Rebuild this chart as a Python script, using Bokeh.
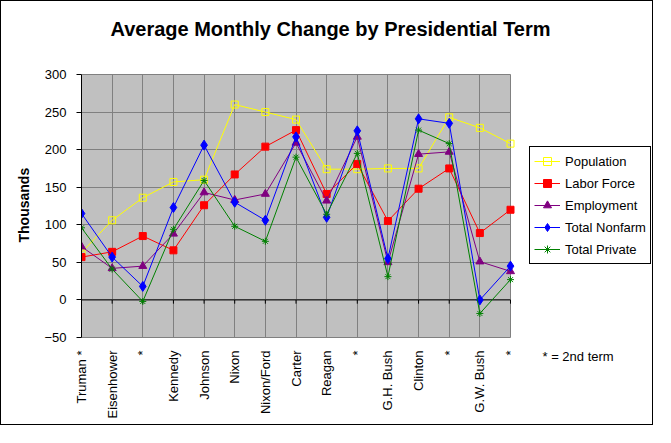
import math
from bokeh.plotting import figure
from bokeh.models import (FixedTicker, Range1d, Legend, LegendItem, ColumnDataSource, Label, Title)
from bokeh.embed import file_html
from bokeh.resources import INLINE

terms = ["Truman *", "Eisenhower", "*", "Kennedy", "Johnson", "Nixon", "Nixon/Ford",
         "Carter", "Reagan", "*", "G.H. Bush", "Clinton", "*", "G.W. Bush", "*"]
population = [63, 106, 136, 157, 160, 260, 250, 240, 174, 174, 175, 175, 243, 229, 208]
labor_force = [57, 64, 85, 66, 126, 167, 204, 226, 141, 181, 105, 148, 175, 89, 120]
employment = [71, 42, 45, 88, 143, 133, 141, 209, 132, 217, 50, 194, 197, 51, 38]
total_nonfarm = [115, 57, 18, 123, 206, 130, 106, 217, 110, 225, 55, 241, 235, 0, 45]
total_private = [96, 41, -2, 94, 159, 98, 78, 190, 114, 195, 31, 226, 208, -18, 27]
y_ticks = [-50, 0, 50, 100, 150, 200, 250, 300]

xs = list(range(len(terms)))
FONT = "Liberation Sans"

# layout (pixels inside the figure)
W, H = 653, 425
data_left, data_right = 80, 509      # gray plot area
data_top, data_bottom = 73, 336
frame_top, frame_right, frame_bottom = 2, 652, 361  # frame also holds title, legend, note
px_per_x = (data_right - data_left) / (xs[-1] - xs[0])
px_per_y = (data_bottom - data_top) / (y_ticks[-1] - y_ticks[0])
x_end = xs[0] + (frame_right - data_left) / px_per_x
y_start = y_ticks[0] - (frame_bottom - data_bottom) / px_per_y
y_end = y_ticks[-1] + (data_top - frame_top) / px_per_y


def dx(px):
    return xs[0] + (px - data_left) / px_per_x


def dy(py):
    return y_ticks[-1] - (py - data_top) / px_per_y


p = figure(width=W, height=H, output_backend="svg", toolbar_location=None,
           x_range=Range1d(xs[0], x_end), y_range=Range1d(y_start, y_end),
           min_border_left=data_left, min_border_right=W - frame_right,
           min_border_top=frame_top, min_border_bottom=H - frame_bottom)
p.styles = {"border": "1px solid black"}
p.background_fill_color = "white"
p.border_fill_color = "white"
p.outline_line_color = None

# gray plot area
p.quad(left=[xs[0]], right=[xs[-1]], bottom=[y_ticks[0]], top=[y_ticks[-1]],
       fill_color="#C0C0C0", line_color=None, level="image")

# grid
p.xgrid.grid_line_color = "#808080"
p.ygrid.grid_line_color = "#808080"
p.xgrid.cross_bounds = (y_ticks[0], y_ticks[-1])
p.ygrid.cross_bounds = (xs[0], xs[-1])

# x axis (labels only)
p.xaxis.ticker = FixedTicker(ticks=xs)
p.xaxis.major_label_overrides = {i: t for i, t in enumerate(terms)}
p.xaxis.major_label_orientation = math.pi / 2
p.xaxis.axis_line_color = None
p.xaxis.major_tick_line_color = None
p.xaxis.minor_tick_line_color = None
p.xaxis.major_label_text_font = FONT
p.xaxis.major_label_text_font_size = "13px"
p.xaxis.major_label_text_color = "black"
p.xaxis.major_label_standoff = 7 - (frame_bottom - data_bottom)

# y axis
p.yaxis.ticker = FixedTicker(ticks=y_ticks)
p.yaxis.bounds = (y_ticks[0], y_ticks[-1])
p.yaxis.axis_line_color = "black"
p.yaxis.major_tick_line_color = "black"
p.yaxis.major_tick_out = 5
p.yaxis.major_tick_in = 0
p.yaxis.minor_tick_line_color = None
p.yaxis.major_label_text_font = FONT
p.yaxis.major_label_text_font_size = "13px"
p.yaxis.major_label_text_color = "black"
p.yaxis.major_label_standoff = 10

ylab = Title(text="Thousands", text_font=FONT, text_font_size="14px", text_font_style="bold",
             text_color="black", align="left", offset=120, standoff=20)
p.add_layout(ylab, "left")

# zero line with ticks
p.line(x=[xs[0], xs[-1]], y=[0, 0], line_color="black", line_width=1)
p.segment(x0=xs, y0=[0] * len(xs), x1=xs, y1=[-5] * len(xs), line_color="black", line_width=1)

series = [
    ("Population", population, "#FFFF00", "square", None, 7),
    ("Labor Force", labor_force, "#FF0000", "square", "#FF0000", 7),
    ("Employment", employment, "#800080", "triangle", "#800080", 8),
    ("Total Nonfarm", total_nonfarm, "#0000FF", "diamond", "#0000FF", 10),
    ("Total Private", total_private, "#008000", "asterisk", "#008000", 7),
]
items = []
for name, vals, color, marker, fill, size in series:
    src = ColumnDataSource(dict(x=xs, y=vals))
    lr = p.line("x", "y", source=src, line_color=color, line_width=1)
    mr = p.scatter("x", "y", source=src, marker=marker, size=size, line_color=color,
                   fill_color=fill, line_width=1)
    items.append(LegendItem(label=name, renderers=[lr, mr]))

legend = Legend(items=items, location=(448, 98), border_line_color="black",
                border_line_width=1, border_line_alpha=1, background_fill_color="white",
                background_fill_alpha=1, label_text_font=FONT, label_text_font_size="13px",
                label_text_color="black", glyph_width=26, glyph_height=20, spacing=2,
                padding=4, margin=0, label_standoff=5, label_height=20)
p.add_layout(legend, "center")

p.add_layout(Label(x=dx(541), y=dy(355), text="* = 2nd term", text_font=FONT,
                   text_font_size="13px", text_baseline="middle", text_color="black"))
p.add_layout(Label(x=dx(329), y=dy(27), text="Average Monthly Change by Presidential Term",
                   text_font=FONT, text_font_size="20px", text_font_style="bold",
                   text_align="center", text_baseline="middle", text_color="black"))

open("out.html", "w").write(file_html(p, INLINE))
